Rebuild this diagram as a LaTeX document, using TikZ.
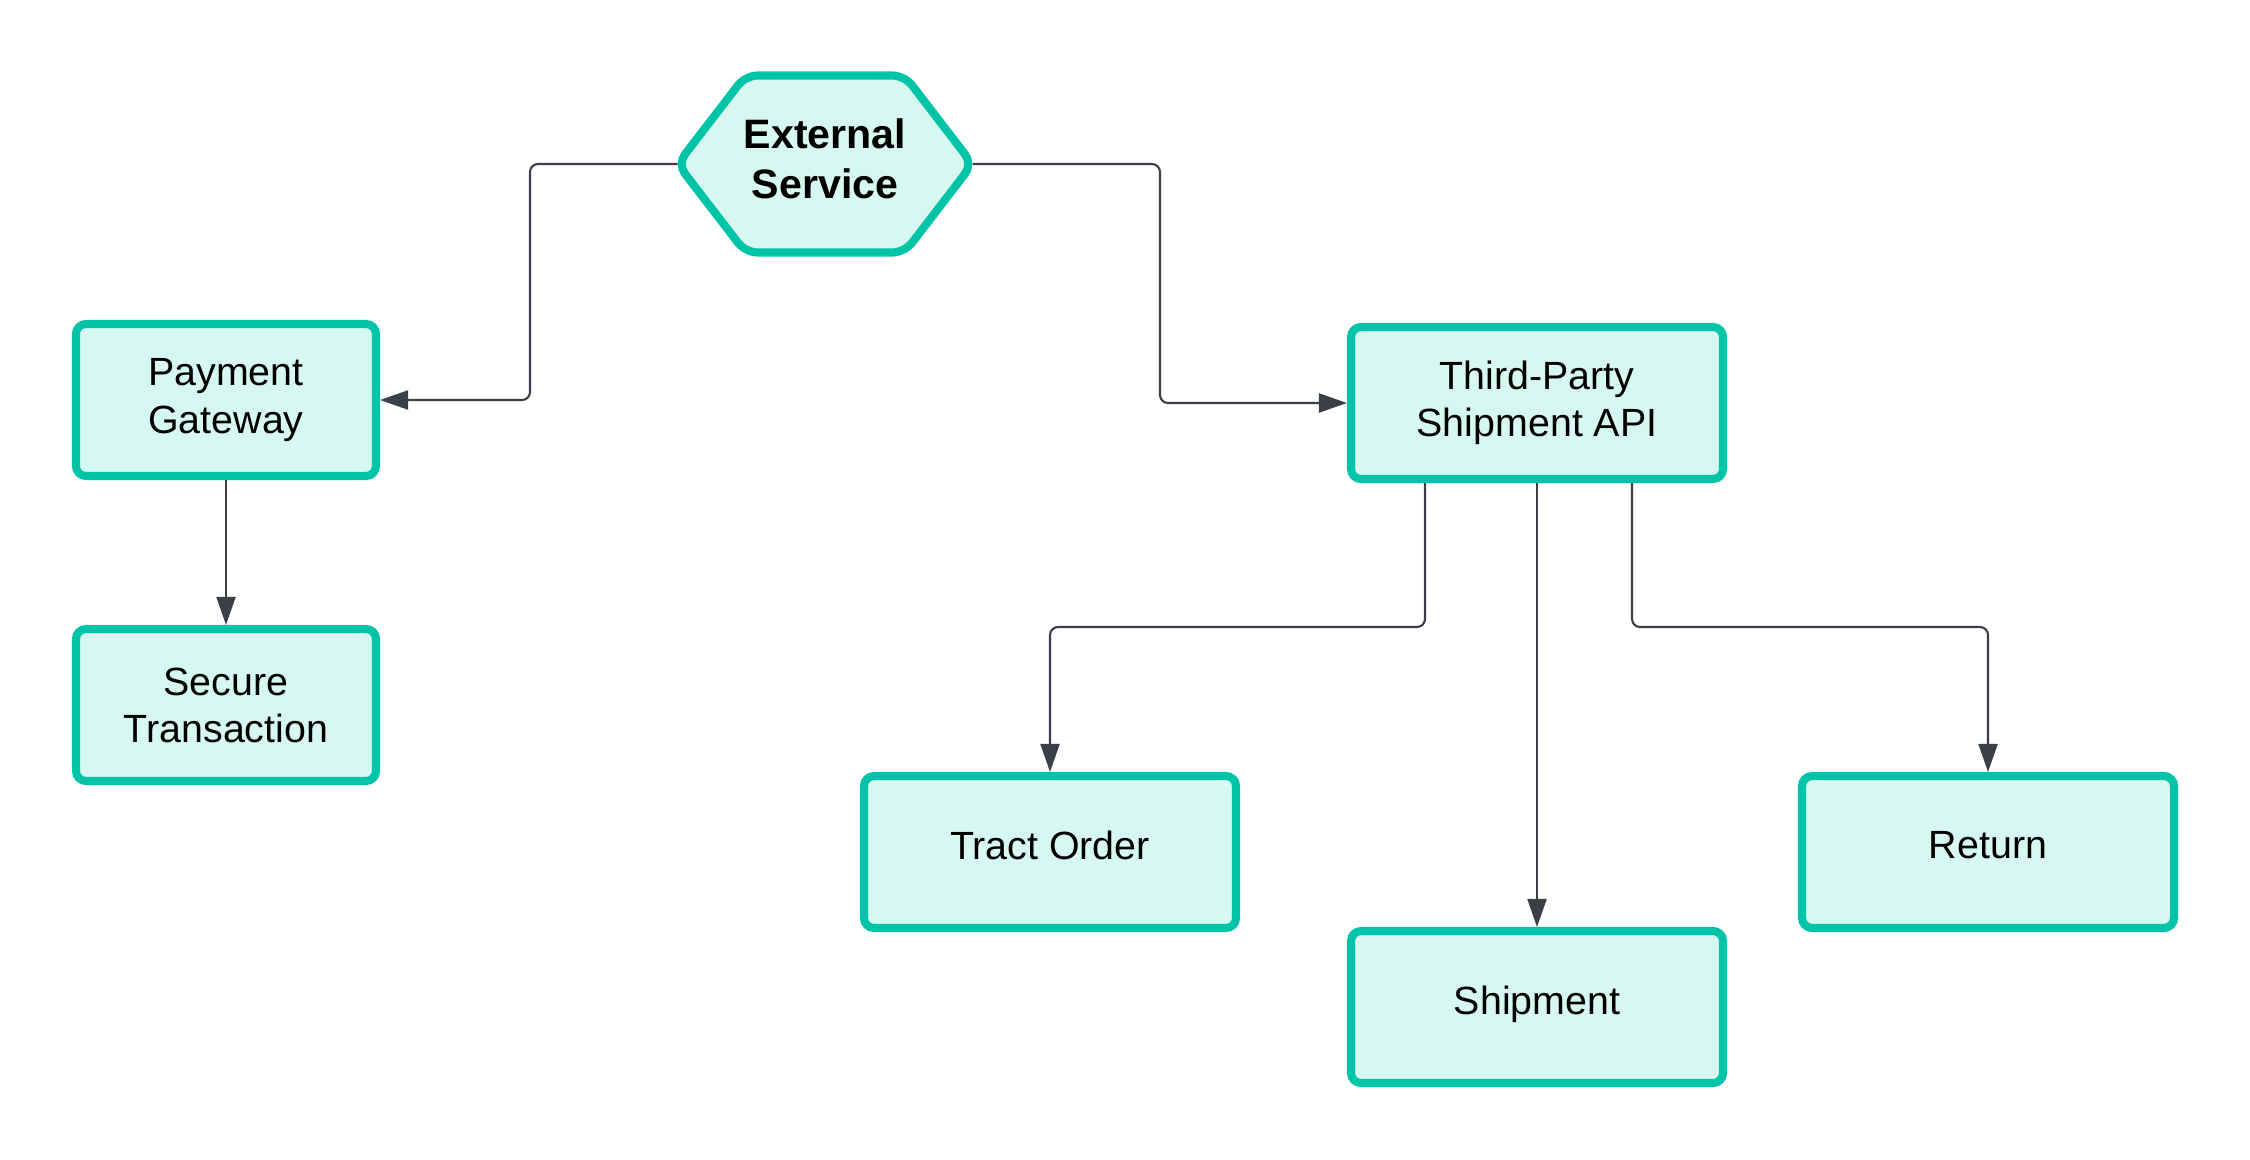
\documentclass[tikz,border=0pt]{standalone}
\usepackage{fontspec}
\setmainfont{Liberation Sans}
\usetikzlibrary{arrows.meta}
\definecolor{mintline}{RGB}{0,196,167}
\definecolor{mintfill}{RGB}{214,248,241}
\definecolor{linkgray}{RGB}{58,63,72}

\begin{document}
\begin{tikzpicture}[
  box/.style={draw=mintline,fill=mintfill,line width=2.3pt,rounded corners=0.1cm,align=center,
    font=\fontsize{11.2}{13.4}\selectfont,minimum height=1.52cm},
  smallbox/.style={box,minimum width=3.0cm},
  widebox/.style={box,minimum width=3.72cm},
  onebox/.style={widebox,text depth=0.14cm},
  link/.style={draw=linkgray,line width=0.6pt,rounded corners=0.08cm,
    -{Triangle[length=0.28cm,width=0.19cm]}}
]
\useasboundingbox (0,0) rectangle (22.5,11.59);

% external service (hexagon)
\draw (8.25,9.95) node[minimum width=2.95cm,minimum height=1.77cm,inner sep=0pt,outer sep=0pt](ext) {};
\draw[draw=mintline,fill=mintfill,line width=2.3pt,rounded corners=0.12cm]
  (ext.west) -- ([xshift=0.68cm]ext.north west) -- ([xshift=-0.68cm]ext.north east)
  -- (ext.east) -- ([xshift=-0.68cm]ext.south east) -- ([xshift=0.68cm]ext.south west) -- cycle;
\draw (8.25,10.0) node[align=center,font=\fontsize{11.7}{14.3}\selectfont\bfseries](extlabel) {External\\Service};

% left branch
\draw (2.26,7.59) node[smallbox](pay) {Payment\\Gateway};
\draw (2.26,4.54) node[smallbox](secure) {Secure\\Transaction};

% right branch
\draw (15.37,7.56) node[widebox](tp) {Third-Party\\Shipment API};
\draw (10.50,3.07) node[onebox](tract) {Tract Order};
\draw (15.37,1.52) node[onebox](ship) {Shipment};
\draw (19.88,3.07) node[onebox](ret) {Return};

\coordinate (bus) at (0,5.32);

\draw[link] (ext.west) -- (5.30,9.95) |- (pay.east);
\draw[link] (ext.east) -- (11.60,9.95) |- (tp.west);
\draw[link] (pay.south) -- (secure.north);
\draw[link] ([xshift=-1.12cm]tp.south) |- (bus -| tract.north) -- (tract.north);
\draw[link] (tp.south) -- (ship.north);
\draw[link] ([xshift=0.95cm]tp.south) |- (bus -| ret.north) -- (ret.north);
\end{tikzpicture}
\end{document}
